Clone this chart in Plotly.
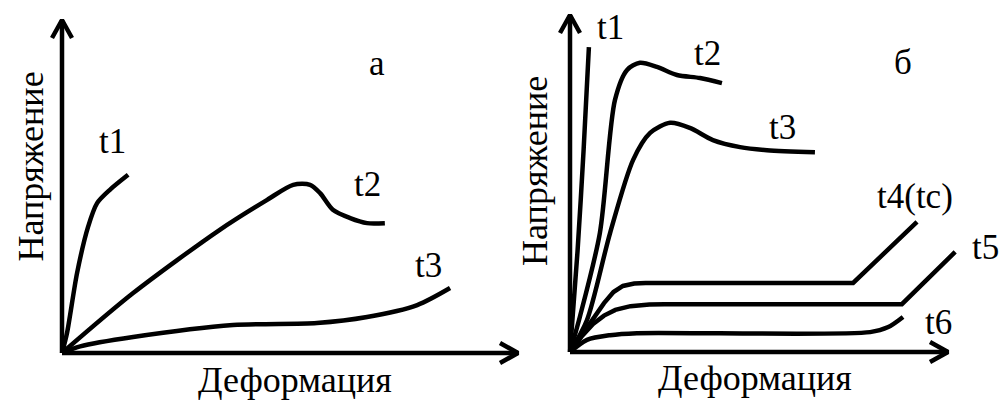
import plotly.graph_objects as go

W, H = 1002, 403

# ---- Panel "а": stress–strain curves at temperatures t1..t3 (arbitrary units, axis length 100)
a_t1_x = [0, 1.1, 3.3, 5.7, 7.7, 10.5, 14.5]
a_t1_y = [0, 6.0, 24.0, 37.8, 45.0, 49.0, 53.5]

a_t2_x = [0, 15.6, 34.6, 45.0, 50.7, 54.4, 56.6, 59.4, 63.2, 66.9, 70.8]
a_t2_y = [0, 18.0, 37.0, 46.0, 50.5, 50.5, 48.0, 43.0, 40.5, 39.0, 39.0]

a_t3_x = [0, 4.0, 15.6, 37.5, 55.9, 66.9, 77.9, 85.1]
a_t3_y = [0, 2.0, 4.8, 8.4, 9.0, 10.8, 14.4, 19.5]

# ---- Panel "б": curves at temperatures t1..t6
b_t1_x = [0, 2.0, 3.6, 5.0]
b_t1_y = [0, 30.0, 60.0, 90.5]

b_t2_x = [0, 2.6, 7.9, 11.9, 15.1, 18.5, 23.0, 28.3, 34.4, 40.2]
b_t2_y = [0, 10.4, 35.3, 74.8, 83.7, 85.8, 84.6, 82.2, 81.3, 79.8]

b_t3_x = [0, 4.5, 10.6, 16.7, 21.2, 26.5, 31.7, 37.8, 45.0, 52.1, 64.8]
b_t3_y = [0, 9.5, 35.3, 57.0, 65.0, 68.0, 66.5, 62.9, 60.8, 59.9, 59.3]

b_t4_x = [0, 5.0, 9.0, 11.5, 14.0, 17.0, 20.0, 74.9, 91.8]
b_t4_y = [0, 8.0, 14.5, 17.8, 19.6, 20.3, 20.5, 20.5, 38.6]

b_t5_x = [0, 3.0, 6.1, 9.0, 12.0, 16.0, 21.0, 25.0, 87.8, 101.9]
b_t5_y = [0, 4.5, 8.3, 10.8, 12.5, 13.6, 14.1, 14.2, 14.2, 29.7]

b_t6_x = [0, 4.5, 10.6, 17.7, 79.4, 84.2, 88.1]
b_t6_y = [0, 3.6, 5.0, 5.6, 5.9, 7.4, 10.4]

# Curve labels: (text, x, y)
a_labels = [("t1", 11.0, 63.4), ("t2", 66.9, 50.5), ("t3", 80.3, 26.4), ("а", 69.1, 87.0)]
b_labels = [("t1", 10.6, 96.4), ("t2", 36.5, 88.7), ("t3", 56.1, 66.5),
            ("t4(tc)", 91.3, 46.0), ("t5", 109.8, 30.9), ("t6", 97.4, 8.9), ("б", 88.1, 85.8)]

y_title = "Напряжение"
x_title = "Деформация"

FONT = "Liberation Serif"
LW = 4.5

# panel geometry: origin (px), pixels per unit, axis ranges
panels = {
    "a": dict(ox=62, oy=353, sx=4.56, sy=3.33, xr=[-12, 104], yr=[-12, 104], xa="x", ya="y"),
    "b": dict(ox=570, oy=352, sx=3.78, sy=3.37, xr=[-12, 114], yr=[-12, 104], xa="x2", ya="y2"),
}

fig = go.Figure()


def add_line(p, xs, ys, shape="spline"):
    fig.add_trace(go.Scatter(
        x=xs, y=ys, mode="lines", xaxis=p["xa"], yaxis=p["ya"],
        line=dict(color="black", width=LW, shape=shape, smoothing=0.8),
        showlegend=False, hoverinfo="skip"))


def add_axes_arrows(p):
    # axis lines with open arrowheads
    wx, wy = 10 / p["sx"], 18 / p["sy"]
    add_line(p, [0, 0], [0, 100], "linear")
    add_line(p, [-wx, 0, wx], [100 - wy, 100, 100 - wy], "linear")
    hx, hy = 18 / p["sx"], 10 / p["sy"]
    add_line(p, [0, 100], [0, 0], "linear")
    add_line(p, [100 - hx, 100, 100 - hx], [hy, 0, -hy], "linear")


pa, pb = panels["a"], panels["b"]
add_axes_arrows(pa)
add_axes_arrows(pb)

add_line(pa, a_t1_x, a_t1_y)
add_line(pa, a_t2_x, a_t2_y)
add_line(pa, a_t3_x, a_t3_y)

add_line(pb, b_t1_x, b_t1_y)
add_line(pb, b_t2_x, b_t2_y)
add_line(pb, b_t3_x, b_t3_y)
add_line(pb, b_t4_x, b_t4_y, "linear")
add_line(pb, b_t5_x, b_t5_y, "linear")
add_line(pb, b_t6_x, b_t6_y)

annotations = []


def label(p, text, x, y, size=35, angle=0):
    annotations.append(dict(
        text=text, x=x, y=y, xref=p["xa"], yref=p["ya"], showarrow=False,
        textangle=angle, font=dict(family=FONT, size=size, color="black"),
        xanchor="center", yanchor="middle"))


for t, x, y in a_labels:
    label(pa, t, x, y)
for t, x, y in b_labels:
    label(pb, t, x, y)

label(pa, y_title, -7.0, 56.0, size=36, angle=-90)
label(pa, x_title, 51.0, -8.1, size=36)
label(pb, y_title, -9.3, 53.7, size=36, angle=-90)
label(pb, x_title, 48.9, -7.7, size=36)

layout = dict(
    width=W, height=H, margin=dict(l=0, r=0, t=0, b=0),
    paper_bgcolor="white", plot_bgcolor="white",
    annotations=annotations, showlegend=False,
)
for p in panels.values():
    xd = [(p["ox"] + p["xr"][0] * p["sx"]) / W, (p["ox"] + p["xr"][1] * p["sx"]) / W]
    yd = [(H - (p["oy"] - p["yr"][0] * p["sy"])) / H, (H - (p["oy"] - p["yr"][1] * p["sy"])) / H]
    xname = "xaxis" if p["xa"] == "x" else "xaxis" + p["xa"][1:]
    yname = "yaxis" if p["ya"] == "y" else "yaxis" + p["ya"][1:]
    layout[xname] = dict(domain=xd, range=p["xr"], visible=False, fixedrange=True,
                         anchor=p["ya"])
    layout[yname] = dict(domain=yd, range=p["yr"], visible=False, fixedrange=True,
                         anchor=p["xa"])

fig.update_layout(**layout)
fig.write_html("out.html", config={"displayModeBar": False})
